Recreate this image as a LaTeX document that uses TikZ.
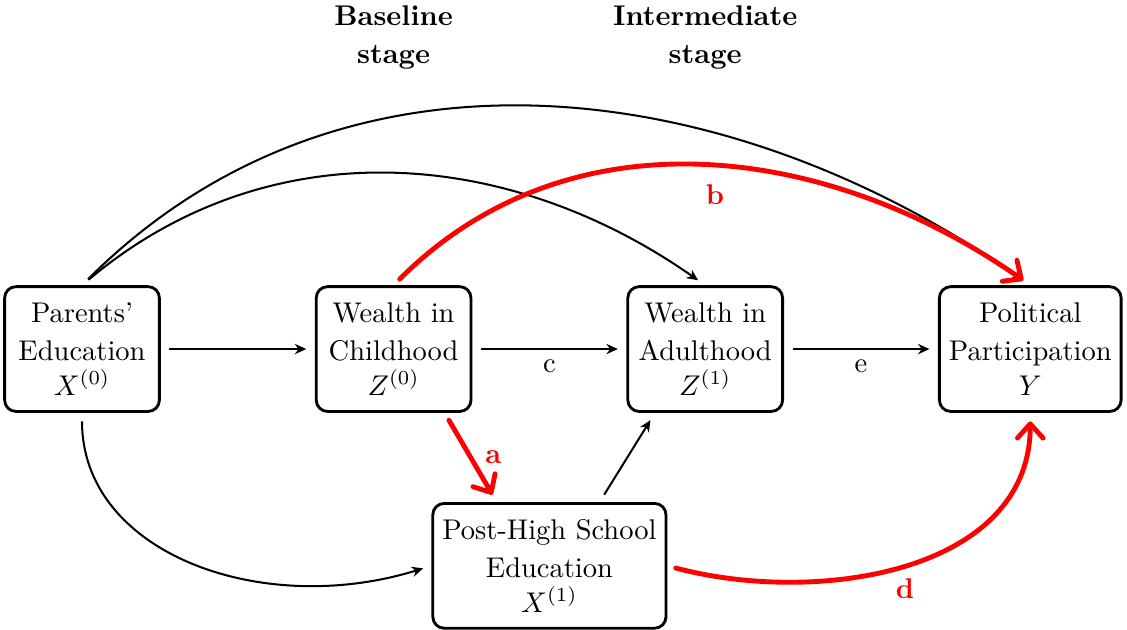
\documentclass[tikz,border=0pt]{standalone}
\usetikzlibrary{arrows.meta,positioning,calc}
\begin{document}
\begin{tikzpicture}
	\tikzset{
	  box/.style={draw,line width=0.35mm,rounded corners=4pt,align=center,
	    minimum width=1.91cm,minimum height=1.54cm},
	  arr/.style={-{Stealth[length=4pt,width=3.6pt]},line width=0.25mm,
	    shorten <=3pt,shorten >=3pt},
	  redarr/.style={-{Straight Barb[round,length=5pt,width=9pt]},red,
	    line width=0.6mm,line cap=round,shorten <=3pt,shorten >=3pt},
	  lbl/.style={red,font=\bfseries},
	  stage/.style={align=center,font=\bfseries},
	}
	\useasboundingbox (-1.012,-3.455) rectangle (12.895,4.307);

        %BOXES
        \node[box] (pe) at (0,0) {Parents'\\[1.4pt]Education\\$X^{(0)}$};
        \node[box,right=1.9cm of pe] (wc) {Wealth in\\[1.4pt]Childhood\\$Z^{(0)}$};
        \node[box,right=1.9cm of wc] (wa) {Wealth in\\[1.4pt]Adulthood\\$Z^{(1)}$};
        \node[box,right=1.9cm of wa] (pp) {Political\\[1.4pt]Participation\\$Y$};
        \coordinate (mid) at ($(wc.south)!0.5!(wa.south)$);
        \node[box,below=1.1cm of mid] (phs) {Post-High School\\[1.4pt]Education\\$X^{(1)}$};

        %STAGES
        \node[stage,above=2.54cm of wc] (base) {Baseline\\[1.4pt]stage};
        \node[stage,above=2.54cm of wa] (inter) {Intermediate\\[1.4pt]stage};

        %STRAIGHT
        \draw[arr] (pe) -- (wc);
        \draw[arr] (wc) -- node[below] {c} (wa);
        \draw[arr] (wa) -- node[below] {e} (pp);
        \draw[arr] ([xshift=0.62cm]phs.north) -- ([xshift=-0.62cm]wa.south);
        \draw[redarr] ([xshift=0.63cm]wc.south) -- node[lbl,right=1pt] {a} ([xshift=-0.65cm]phs.north);

        %CURVES
        \draw[arr] (pe.north) to[out=40,in=145] (wa.north);
        \draw[arr] (pe.north) to[out=45,in=145] (pp.north);
        \draw[redarr] (wc.north) to[out=45,in=145] node[lbl,pos=0.52,below=2pt] {b} (pp.north);
        \draw[arr] (pe.south) .. controls +(0,-1.73) and +(-2.1,-0.65) .. (phs.west);
        \draw[redarr] (phs.east) .. controls +(1.85,-0.49) and +(0,-1.97) .. node[lbl,below=1pt] {d} (pp.south);
\end{tikzpicture}
\end{document}
